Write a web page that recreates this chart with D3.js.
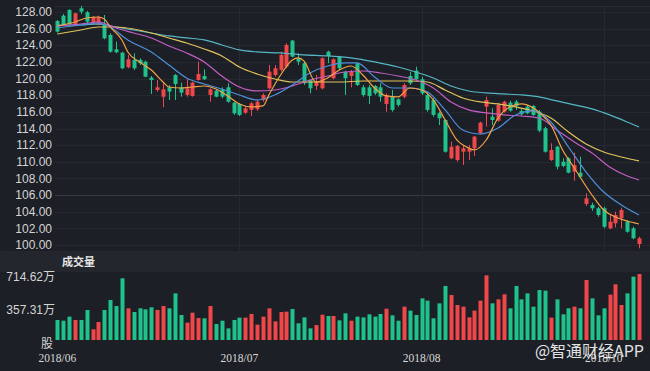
<!DOCTYPE html>
<html>
<head>
<meta charset="utf-8">
<script src="https://cdn.jsdelivr.net/npm/d3@7/dist/d3.min.js"></script>
<style>
html, body { margin: 0; padding: 0; background: #1c1f25; overflow: hidden; }
svg { display: block; }
</style>
</head>
<body>
<script>
// daily candles (red = up, green = down)
var openPx = [126.92,127.56,128.25,126.44,128.45,127.97,126.56,126.44,126.44,125.24,
  123.52,123.11,121.36,122.24,122.24,122.03,120.11,118.63,117.82,118.95,
  120.43,118.95,118.03,117.91,119.83,120.31,118.03,118.55,118.71,118.95,
  117.10,116.95,115.90,116.23,116.31,117.43,118.83,120.43,121.03,121.43,
  124.56,122.44,121.84,119.83,119.11,118.83,123.23,120.04,122.63,120.83,
  120.31,121.84,118.95,118.95,119.11,118.95,116.95,117.82,117.51,117.82,
  120.31,120.95,119.92,118.03,117.43,115.83,115.02,110.42,110.22,111.21,
  111.21,111.62,113.42,116.62,115.42,114.94,116.02,117.10,117.22,116.11,
  116.62,116.71,116.02,114.03,110.22,111.81,110.01,110.42,108.81,108.69,
  104.93,104.81,104.41,104.41,102.00,102.61,103.21,102.80,102.00,100.12];
var highPx = [127.04,127.76,128.33,127.92,128.73,128.13,127.52,127.56,127.64,125.44,
  124.44,123.23,122.84,123.04,122.44,122.15,120.31,119.83,119.44,119.23,
  120.55,119.51,119.92,119.63,122.03,121.12,118.83,118.71,118.95,119.44,
  117.22,117.07,116.62,117.22,117.43,118.23,121.63,121.63,123.23,124.24,
  124.64,123.04,122.03,119.92,120.43,122.56,123.35,122.44,122.72,120.95,
  121.03,121.91,119.23,119.23,119.23,119.44,118.23,118.63,117.63,119.44,
  120.83,121.43,120.23,118.43,117.63,116.02,115.10,112.42,112.02,112.02,
  112.02,113.10,114.82,117.83,116.43,117.10,117.34,117.34,117.43,116.43,
  116.83,116.83,116.23,114.22,112.22,111.90,110.42,110.54,111.10,110.61,
  106.21,105.08,104.60,104.60,103.61,104.00,104.48,103.00,102.20,101.00];
var lowPx = [125.52,126.32,126.44,126.32,127.76,126.56,126.44,126.44,124.72,123.11,
  123.04,121.12,121.24,121.03,121.63,120.16,118.15,118.43,116.55,117.43,
  117.43,117.82,117.82,117.82,119.75,119.83,117.22,117.75,117.63,117.10,
  115.63,115.50,115.75,115.50,116.11,117.22,118.71,120.23,120.83,121.24,
  122.56,121.63,119.23,118.23,118.63,118.71,121.84,119.92,121.03,118.03,
  118.95,119.11,117.82,116.95,118.03,117.22,116.02,116.02,116.62,117.63,
  119.23,119.75,118.03,116.02,115.42,114.42,111.10,110.30,110.01,109.62,
  110.22,110.70,113.30,114.22,114.42,114.82,115.90,116.02,116.23,115.50,
  115.71,115.50,113.55,111.10,110.10,109.10,109.34,108.62,107.73,108.02,
  104.69,104.12,103.40,102.00,101.89,102.12,102.00,101.48,100.69,99.60];
var closePx = [125.64,126.44,126.53,127.85,128.04,126.84,127.37,127.37,124.84,123.23,
  123.16,121.24,122.32,121.24,121.84,120.23,119.83,118.95,118.71,118.43,
  119.35,118.31,118.83,119.51,120.55,119.92,118.71,117.82,117.82,117.22,
  115.83,115.63,116.43,117.03,117.22,118.03,120.83,121.24,122.84,124.04,
  122.63,122.03,119.44,118.83,119.63,122.44,122.72,122.32,121.24,120.04,
  120.83,119.23,118.03,117.91,118.23,117.82,118.03,116.23,116.83,119.23,
  119.44,119.92,118.23,116.23,115.63,115.23,111.21,111.81,111.90,111.62,
  111.62,113.02,114.70,117.43,115.02,116.83,117.22,116.14,116.71,115.71,
  115.83,115.63,113.74,111.21,111.42,109.41,109.50,108.69,109.62,108.21,
  105.61,104.41,103.61,102.20,102.80,103.61,104.21,101.60,100.81,100.81];
// volume, in 万股
var volume = [217,209,253,217,217,325,116,195,325,433,
  368,668,343,303,343,332,354,325,368,343,
  505,271,188,296,238,235,368,173,209,126,
  217,242,242,282,166,253,343,202,303,307,
  336,181,245,126,162,274,260,260,213,289,
  209,253,245,278,253,282,339,267,209,361,
  318,271,451,426,235,397,585,487,379,361,
  245,318,426,700,397,440,495,343,585,440,
  505,361,541,534,242,440,278,343,361,343,
  650,451,267,343,491,603,379,505,686,714.62];

var dateLabels = ["2018/06", "2018/07", "2018/08", "2018/10"];
var dateLabelIdx = [0, 31, 62, 93];
var priceTicks = [100,102,104,106,108,110,112,114,116,118,120,122,124,126,128];
var volTicks = [714.62, 357.31];

// moving averages at these bar indexes
var ma5Idx = [0,3,5,7,8,9,11,12,14,16,18,19,21,23,25,27,29,31,33,35,36,38,40,41,42,44,46,48,50,52,54,56,58,60,62,64,66,68,70,71,73,75,77,79,81,83,84,86,88,91,93,95,97,99];
var ma5 = [126.32,126.8,127.28,127.4,127.16,126.2,124.64,123.2,122.0,121.03,119.59,118.99,118.87,118.99,119.11,118.75,117.91,116.95,116.59,116.71,118.03,120.43,122.24,122.48,122.1,119.59,120.07,121.03,121.51,120.43,118.87,117.91,117.79,118.87,118.63,117.43,115.02,112.62,111.66,111.42,112.62,115.26,116.59,116.95,116.47,115.26,114.42,111.42,109.25,106.01,104.21,103.37,102.88,102.52];
var ma10Idx = [0,4,7,9,12,16,19,22,25,28,31,34,37,40,43,46,49,51,54,57,60,63,66,69,72,75,78,81,84,87,90,93,96,99];
var ma10 = [126.08,126.44,126.68,126.2,124.64,123.2,121.63,120.07,119.35,118.75,118.03,117.43,118.03,119.23,120.67,121.51,121.88,121.88,120.19,118.87,118.87,118.39,116.23,113.82,113.34,114.06,115.63,116.11,114.78,111.78,108.77,106.37,104.81,103.61];
var ma20Idx = [0,4,7,10,13,16,19,22,25,28,31,34,37,40,43,46,49,52,55,58,61,64,67,70,73,76,79,82,85,88,91,94,97,99];
var ma20 = [126.32,126.56,126.8,126.08,125.48,124.88,123.92,123.08,122.0,120.31,118.99,118.51,118.63,119.11,119.83,120.31,120.79,120.91,120.67,120.31,119.83,118.87,117.19,116.23,115.87,115.63,115.5,115.26,113.82,112.38,111.06,109.38,108.29,107.81];
var ma30Idx = [0,4,7,10,13,16,19,22,25,28,31,34,37,40,44,48,52,56,60,63,66,69,72,75,78,81,84,87,90,93,96,99];
var ma30 = [125.36,125.84,126.2,126.2,125.96,125.48,124.88,124.28,123.56,122.72,121.39,120.55,119.95,119.59,119.59,119.59,119.71,119.71,119.71,119.59,118.63,117.67,117.19,116.95,116.59,116.11,115.26,113.58,112.14,111.18,110.58,110.1];
var ma60Idx = [0,4,7,10,13,16,19,22,25,28,31,34,38,42,46,50,54,58,61,64,67,70,73,76,79,82,85,88,91,94,97,99];
var ma60 = [126.44,126.44,126.56,126.2,125.84,125.48,125.12,124.88,124.64,124.04,123.44,123.2,123.08,122.84,122.72,122.48,122.0,121.39,120.79,120.07,119.11,118.51,118.27,118.15,118.03,117.79,117.31,116.83,116.35,115.63,114.78,114.18];

var UP = "#f0474a", DOWN = "#1fc28a";
var width = 650, height = 371;

var svg = d3.select("body").append("svg").attr("width", width).attr("height", height);

svg.append("rect").attr("width", width).attr("height", height).attr("fill", "#1c1f25");
// strip holding the volume title
svg.append("rect").attr("x", 0).attr("y", 251).attr("width", width).attr("height", 21).attr("fill", "#23262c");

var idx = d3.range(volume.length);
var x = d3.scalePoint().domain(idx).range([57.3, 639]);
var barW = 4;

var y = d3.scaleLinear().domain([100, 128]).range([245, 12]);
var yVol = d3.scaleLinear().domain([0, 714.62]).range([340, 274]);

// grid
svg.append("line").attr("x1", 55).attr("x2", width).attr("y1", 6.5).attr("y2", 6.5)
  .attr("stroke", "#2a2d33");
svg.selectAll(".hgrid").data(priceTicks).enter().append("line")
  .attr("class", "hgrid")
  .attr("x1", 55).attr("x2", width)
  .attr("y1", function(d) { return Math.round(y(d)) + 0.5; })
  .attr("y2", function(d) { return Math.round(y(d)) + 0.5; })
  .attr("stroke", function(d) { return d === 106 ? "#363a41" : "#25282e"; });
svg.selectAll(".vgrid").data(dateLabelIdx.slice(1)).enter().append("line")
  .attr("class", "vgrid")
  .attr("x1", function(d) { return Math.round(x(d)) + 0.5; })
  .attr("x2", function(d) { return Math.round(x(d)) + 0.5; })
  .attr("y1", 6).attr("y2", 250)
  .attr("stroke", "#262930");

// candles
var candle = svg.selectAll(".candle").data(idx).enter().append("g").attr("class", "candle");
candle.append("line")
  .attr("x1", function(i) { return Math.round(x(i)) + 0.5; })
  .attr("x2", function(i) { return Math.round(x(i)) + 0.5; })
  .attr("y1", function(i) { return y(highPx[i]); })
  .attr("y2", function(i) { return y(lowPx[i]); })
  .attr("stroke", function(i) { return closePx[i] >= openPx[i] ? UP : DOWN; })
  .attr("stroke-width", 1);
candle.append("rect")
  .attr("x", function(i) { return Math.round(x(i)) - 1.5; })
  .attr("width", barW)
  .attr("y", function(i) { return y(Math.max(openPx[i], closePx[i])); })
  .attr("height", function(i) {
    return Math.max(1, y(Math.min(openPx[i], closePx[i])) - y(Math.max(openPx[i], closePx[i])));
  })
  .attr("fill", function(i) { return closePx[i] >= openPx[i] ? UP : DOWN; });

// moving average lines
var maLines = [
  {idx: ma60Idx, val: ma60, color: "#56b6c6"},
  {idx: ma30Idx, val: ma30, color: "#e2c35a"},
  {idx: ma20Idx, val: ma20, color: "#c45dc6"},
  {idx: ma10Idx, val: ma10, color: "#4f8fdc"},
  {idx: ma5Idx, val: ma5, color: "#f2a346"}
];
var line = d3.line().curve(d3.curveMonotoneX);
svg.selectAll(".ma").data(maLines).enter().append("path")
  .attr("class", "ma")
  .attr("d", function(m) {
    return line(m.idx.map(function(i, k) { return [x(i), y(m.val[k])]; }));
  })
  .attr("fill", "none")
  .attr("stroke", function(m) { return m.color; })
  .attr("stroke-width", 1.2);

// price axis labels
svg.selectAll(".plabel").data(priceTicks).enter().append("text")
  .attr("class", "plabel")
  .attr("x", 52).attr("y", function(d) { return y(d); })
  .attr("dy", "0.35em")
  .attr("text-anchor", "end")
  .style("font-family", "'Liberation Sans', Arial, sans-serif")
  .style("font-size", "12px")
  .style("fill", "#d4d4d4")
  .text(function(d) { return d.toFixed(2); });

// volume panel
svg.append("text").attr("x", 62).attr("y", 262).attr("dy", "0.35em")
  .style("font-family", "'Noto Sans CJK SC', sans-serif")
  .style("font-size", "11px").style("font-weight", "bold")
  .style("fill", "#e6e6e6")
  .text("成交量");

svg.selectAll(".vbar").data(idx).enter().append("rect")
  .attr("class", "vbar")
  .attr("x", function(i) { return Math.round(x(i)) - 1.5; })
  .attr("width", barW)
  .attr("y", function(i) { return yVol(volume[i]); })
  .attr("height", function(i) { return yVol(0) - yVol(volume[i]); })
  .attr("fill", function(i) { return closePx[i] >= openPx[i] ? UP : DOWN; });

svg.selectAll(".vlabel").data(volTicks).enter().append("text")
  .attr("class", "vlabel")
  .attr("x", 55).attr("y", function(d) { return yVol(d) + 2.5; })
  .attr("dy", "0.35em")
  .attr("text-anchor", "end")
  .style("font-family", "'Liberation Sans', 'Noto Sans CJK SC', sans-serif")
  .style("font-size", "12px")
  .style("fill", "#d4d4d4")
  .text(function(d) { return d.toFixed(2) + "万"; });
svg.append("text").attr("x", 53).attr("y", yVol(0) + 4).attr("dy", "0.35em")
  .attr("text-anchor", "end")
  .style("font-family", "'Noto Sans CJK SC', sans-serif")
  .style("font-size", "12px")
  .style("fill", "#d4d4d4")
  .text("股");

// date labels
svg.selectAll(".dlabel").data(dateLabelIdx).enter().append("text")
  .attr("class", "dlabel")
  .attr("x", function(i) { return x(i); }).attr("y", 358)
  .attr("dy", "0.35em")
  .attr("text-anchor", "middle")
  .style("font-family", "'Liberation Serif', 'Times New Roman', serif")
  .style("font-size", "11.5px")
  .style("fill", "#d8d8d8")
  .text(function(i, k) { return dateLabels[k]; });

// watermark, sits over the last date label as in the source
svg.append("text").attr("x", 644).attr("y", 351).attr("dy", "0.35em")
  .attr("text-anchor", "end")
  .style("font-family", "'Noto Sans CJK SC', sans-serif")
  .style("font-size", "16px")
  .style("fill", "#ffffff").style("opacity", 0.88)
  .text("@智通财经APP");
</script>
</body>
</html>
